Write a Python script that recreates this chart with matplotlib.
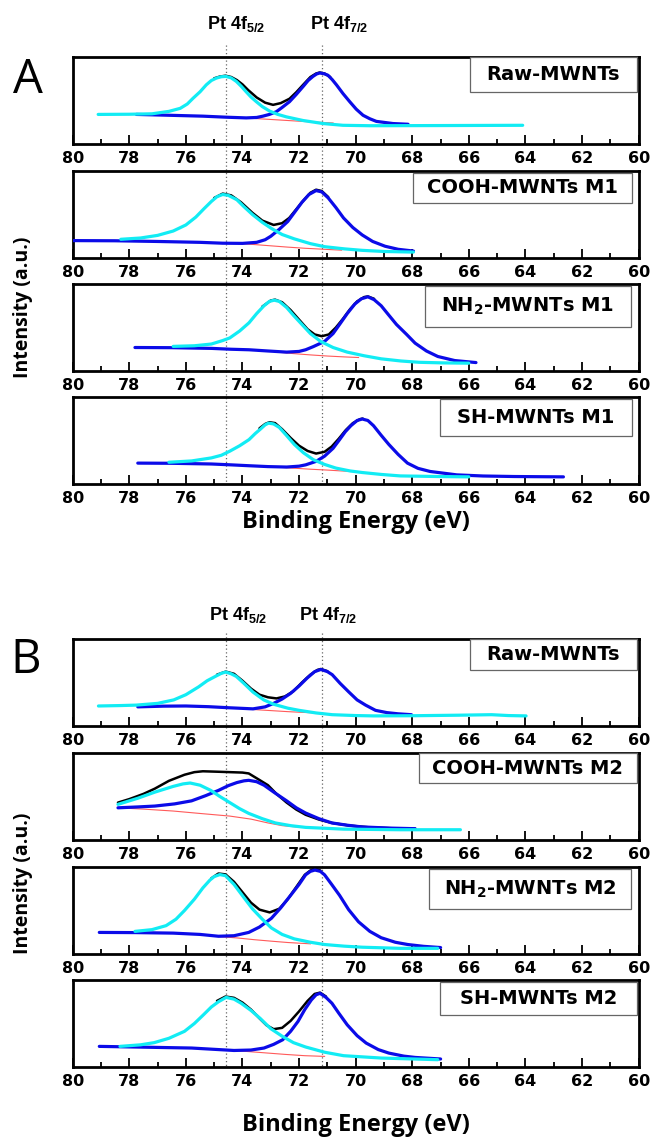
import matplotlib
matplotlib.use('Agg')
import matplotlib.pyplot as plt
from matplotlib.patches import Rectangle
from matplotlib.lines import Line2D
import matplotlib.transforms as mtransforms

plt.rcParams['mathtext.default'] = 'regular'

# ---------------- data (binding energy eV, intensity a.u.) ----------------
TICKS = [80, 78, 76, 74, 72, 70, 68, 66, 64, 62, 60]
TICK_LABELS = ['80', '78', '76', '74', '72', '70', '68', '66', '64', '62', '60']
MINOR_TICKS = [79, 77, 75, 73, 71, 69, 67, 65, 63, 61]
PEAK_LINES = [74.6, 71.2]
PEAK_NAMES = [r'Pt 4f$_{5/2}$', r'Pt 4f$_{7/2}$']

LABELS_A = ['Raw-MWNTs', 'COOH-MWNTs M1', r'NH$_2$-MWNTs M1', 'SH-MWNTs M1']
LABELS_B = ['Raw-MWNTs', 'COOH-MWNTs M2', r'NH$_2$-MWNTs M2', 'SH-MWNTs M2']

A1_CYAN = [(79.1, 0.34), (78.0, 0.342), (77.2, 0.347), (76.6, 0.375), (76.2, 0.41), (75.95, 0.46), (75.75, 0.525),
           (75.5, 0.6), (75.28, 0.68), (75.1, 0.73), (74.92, 0.758), (74.75, 0.773), (74.59, 0.777), (74.4, 0.76),
           (74.22, 0.72), (74.05, 0.665), (73.87, 0.60), (73.7, 0.54), (73.51, 0.486), (73.3, 0.43), (73.04, 0.378),
           (72.75, 0.34), (72.45, 0.312), (71.86, 0.27), (71.15, 0.235), (70.45, 0.215), (69.5, 0.21), (67.0, 0.212),
           (64.1, 0.215)]
A1_BLUE = [(77.75, 0.34), (76.57, 0.33), (75.4, 0.32), (74.57, 0.308), (73.87, 0.30), (73.5, 0.305), (73.28, 0.32),
           (73.05, 0.34), (72.81, 0.37), (72.6, 0.42), (72.34, 0.486), (72.1, 0.57), (71.86, 0.66), (71.68, 0.73),
           (71.51, 0.777), (71.38, 0.805), (71.27, 0.816), (71.12, 0.808), (70.98, 0.79), (70.83, 0.74), (70.68, 0.68),
           (70.45, 0.58), (70.21, 0.486), (69.98, 0.40), (69.74, 0.33), (69.5, 0.29), (69.27, 0.26), (68.68, 0.235),
           (68.15, 0.227)]
A1_BLACK = [(75.0, 0.755), (74.8, 0.775), (74.6, 0.785), (74.4, 0.77), (74.2, 0.735), (74.0, 0.685), (73.8, 0.62),
            (73.5, 0.535), (73.2, 0.475), (72.92, 0.45), (72.65, 0.47), (72.34, 0.52), (72.1, 0.595), (71.86, 0.68),
            (71.6, 0.77), (71.4, 0.81), (71.27, 0.822), (71.1, 0.81), (70.9, 0.77)]
A1_RED = [(74.3, 0.308), (73.8, 0.298), (73.3, 0.288), (72.8, 0.278), (72.3, 0.268), (71.8, 0.258), (71.3, 0.25),
          (70.8, 0.242)]

A2_CYAN = [(78.3, 0.215), (77.6, 0.23), (77.0, 0.26), (76.45, 0.31), (76.0, 0.38), (75.65, 0.47), (75.35, 0.57),
           (75.1, 0.65), (74.9, 0.705), (74.7, 0.73), (74.5, 0.72), (74.2, 0.67), (73.95, 0.59), (73.65, 0.50),
           (73.3, 0.41), (72.98, 0.34), (72.6, 0.27), (72.17, 0.22), (71.6, 0.165), (71.1, 0.13), (70.4, 0.105),
           (69.77, 0.088), (69.0, 0.075), (67.96, 0.068)]
A2_BLUE = [(80.0, 0.20), (78.5, 0.198), (77.0, 0.19), (75.5, 0.18), (74.7, 0.17), (74.0, 0.168), (73.5, 0.18),
           (73.2, 0.21), (73.0, 0.25), (72.7, 0.33), (72.4, 0.42), (72.15, 0.53), (71.9, 0.64), (71.65, 0.73),
           (71.4, 0.775), (71.2, 0.76), (70.97, 0.69), (70.7, 0.58), (70.43, 0.46), (70.1, 0.35), (69.77, 0.265),
           (69.4, 0.19), (68.96, 0.135), (68.5, 0.10), (67.96, 0.08)]
A2_BLACK = [(75.0, 0.69), (74.7, 0.74), (74.4, 0.72), (74.05, 0.64), (73.65, 0.52), (73.3, 0.43), (72.9, 0.38),
            (72.6, 0.40), (72.35, 0.46), (72.1, 0.56), (71.85, 0.66), (71.6, 0.75), (71.4, 0.785), (71.2, 0.77),
            (70.97, 0.70)]
A2_RED = [(74.2, 0.168), (73.6, 0.155), (73.0, 0.14), (72.4, 0.125), (71.8, 0.112), (71.1, 0.10), (70.5, 0.09)]

A3_CYAN = [(76.45, 0.283), (75.7, 0.29), (75.1, 0.31), (74.7, 0.35), (74.45, 0.38), (74.1, 0.46), (73.77, 0.554),
           (73.5, 0.66), (73.24, 0.75), (73.05, 0.80), (72.88, 0.814), (72.7, 0.80), (72.44, 0.73), (72.2, 0.64),
           (71.9, 0.535), (71.6, 0.43), (71.24, 0.34), (70.8, 0.27), (70.3, 0.217), (69.7, 0.175), (69.1, 0.14),
           (68.4, 0.115), (67.76, 0.10), (66.9, 0.093), (66.0, 0.09)]
A3_BLUE = [(77.8, 0.27), (76.5, 0.268), (75.1, 0.26), (74.4, 0.25), (73.77, 0.244), (73.1, 0.23), (72.44, 0.217),
           (72.0, 0.225), (71.77, 0.244), (71.5, 0.28), (71.1, 0.34), (70.8, 0.43), (70.57, 0.535), (70.3, 0.66),
           (70.03, 0.77), (69.8, 0.83), (69.57, 0.853), (69.35, 0.82), (69.1, 0.75), (68.85, 0.65), (68.56, 0.535),
           (68.2, 0.42), (67.9, 0.32), (67.5, 0.23), (67.1, 0.167), (66.5, 0.12), (65.75, 0.097)]
A3_BLACK = [(73.3, 0.74), (73.0, 0.81), (72.85, 0.82), (72.6, 0.79), (72.3, 0.70), (72.0, 0.59), (71.7, 0.48),
            (71.45, 0.42), (71.2, 0.40), (70.95, 0.42), (70.7, 0.50), (70.45, 0.60), (70.2, 0.71), (69.95, 0.80),
            (69.7, 0.85), (69.57, 0.857), (69.35, 0.83)]
A3_RED = [(72.7, 0.215), (72.2, 0.2), (71.6, 0.185), (71.0, 0.172), (70.4, 0.162), (69.9, 0.155)]

A4_CYAN = [(76.6, 0.25), (75.8, 0.265), (75.1, 0.30), (74.75, 0.33), (74.45, 0.377), (74.1, 0.44), (73.77, 0.51),
           (73.55, 0.58), (73.37, 0.63), (73.2, 0.68), (73.08, 0.70), (72.9, 0.69), (72.7, 0.65), (72.45, 0.56),
           (72.17, 0.455), (71.85, 0.36), (71.5, 0.28), (71.1, 0.225), (70.7, 0.183), (70.2, 0.15), (69.77, 0.132),
           (69.1, 0.11), (68.43, 0.093), (67.1, 0.086), (66.0, 0.082)]
A4_BLUE = [(77.7, 0.24), (76.5, 0.238), (75.1, 0.23), (74.4, 0.22), (73.77, 0.21), (73.1, 0.20), (72.44, 0.195),
           (72.0, 0.205), (71.77, 0.22), (71.4, 0.26), (71.1, 0.32), (70.8, 0.41), (70.57, 0.51), (70.37, 0.60),
           (70.17, 0.67), (69.95, 0.73), (69.77, 0.747), (69.57, 0.73), (69.37, 0.67), (69.1, 0.56), (68.83, 0.455),
           (68.5, 0.34), (68.17, 0.24), (67.8, 0.18), (67.37, 0.144), (66.43, 0.105), (65.5, 0.092), (64.4, 0.086),
           (62.66, 0.082)]
A4_BLACK = [(73.4, 0.64), (73.2, 0.69), (73.05, 0.71), (72.85, 0.70), (72.6, 0.63), (72.3, 0.53), (72.0, 0.44),
            (71.7, 0.38), (71.4, 0.35), (71.1, 0.37), (70.85, 0.43), (70.6, 0.52), (70.35, 0.62), (70.1, 0.70),
            (69.85, 0.745), (69.75, 0.752)]
A4_RED = [(72.6, 0.19), (72.1, 0.18), (71.6, 0.17), (71.0, 0.16), (70.5, 0.15), (70.1, 0.143)]

B1_CYAN = [(79.09, 0.23), (78.3, 0.235), (77.76, 0.24), (77.0, 0.26), (76.43, 0.30), (76.0, 0.36), (75.55, 0.45),
           (75.25, 0.52), (74.96, 0.57), (74.75, 0.605), (74.59, 0.62), (74.4, 0.60), (74.22, 0.57), (73.95, 0.49),
           (73.63, 0.39), (73.25, 0.30), (72.9, 0.25), (72.4, 0.205), (72.0, 0.18), (71.4, 0.15), (70.83, 0.13),
           (70.0, 0.12), (69.36, 0.116), (68.0, 0.118), (66.4, 0.124), (65.2, 0.13), (64.6, 0.12), (63.98, 0.116)]
B1_BLUE = [(77.7, 0.22), (76.8, 0.228), (76.0, 0.23), (75.2, 0.222), (74.5, 0.21), (73.63, 0.197), (73.2, 0.22),
           (72.9, 0.26), (72.6, 0.31), (72.3, 0.375), (72.0, 0.46), (71.72, 0.55), (71.45, 0.625), (71.23, 0.65),
           (71.0, 0.625), (70.83, 0.59), (70.55, 0.49), (70.24, 0.39), (69.95, 0.30), (69.65, 0.24), (69.3, 0.18),
           (68.9, 0.154), (68.5, 0.14), (68.03, 0.13)]
B1_BLACK = [(74.9, 0.59), (74.59, 0.625), (74.3, 0.6), (74.0, 0.52), (73.7, 0.43), (73.4, 0.36), (73.1, 0.33),
            (72.8, 0.317), (72.5, 0.34), (72.2, 0.40), (71.9, 0.5), (71.6, 0.59), (71.35, 0.645), (71.23, 0.655),
            (71.0, 0.63)]
B1_RED = [(73.9, 0.195), (73.4, 0.185), (72.9, 0.175), (72.4, 0.165), (71.9, 0.157), (71.4, 0.15)]

B2_CYAN = [(78.4, 0.41), (77.7, 0.48), (77.1, 0.55), (76.45, 0.616), (76.1, 0.645), (75.85, 0.655), (75.5, 0.63),
           (75.12, 0.57), (74.8, 0.50), (74.45, 0.43), (74.1, 0.36), (73.78, 0.306), (73.3, 0.245), (72.84, 0.196),
           (72.3, 0.165), (71.77, 0.145), (70.43, 0.125), (68.43, 0.118), (66.3, 0.118)]
B2_BLUE = [(78.4, 0.37), (77.7, 0.38), (77.1, 0.39), (76.4, 0.415), (75.8, 0.45), (75.3, 0.51), (74.85, 0.57),
           (74.5, 0.625), (74.2, 0.66), (73.95, 0.68), (73.78, 0.686), (73.5, 0.67), (73.24, 0.63), (72.85, 0.54),
           (72.44, 0.45), (72.1, 0.37), (71.77, 0.31), (71.3, 0.245), (70.84, 0.196), (70.3, 0.17), (69.77, 0.15),
           (68.8, 0.137), (67.9, 0.13)]
B2_BLACK = [(78.4, 0.43), (78.0, 0.47), (77.5, 0.53), (77.1, 0.59), (76.6, 0.68), (76.05, 0.75), (75.7, 0.78),
            (75.4, 0.79), (74.9, 0.785), (74.45, 0.78), (74.0, 0.775), (73.78, 0.765), (73.45, 0.70), (73.1, 0.63),
            (72.8, 0.53), (72.44, 0.43), (72.1, 0.35), (71.77, 0.29), (71.3, 0.235), (70.84, 0.196), (70.2, 0.165),
            (69.5, 0.145), (68.5, 0.132), (67.9, 0.13)]
B2_RED = [(78.4, 0.37), (77.5, 0.355), (76.45, 0.333), (75.5, 0.305), (74.45, 0.275), (73.7, 0.24), (73.1, 0.196),
          (72.6, 0.165), (72.1, 0.15)]

B3_CYAN = [(77.8, 0.26), (77.2, 0.28), (76.7, 0.326), (76.35, 0.40), (76.05, 0.50), (75.7, 0.63), (75.4, 0.76),
           (75.15, 0.85), (75.0, 0.89), (74.8, 0.913), (74.6, 0.90), (74.3, 0.80), (74.0, 0.67), (73.65, 0.52),
           (73.3, 0.40), (72.98, 0.30), (72.6, 0.225), (72.17, 0.174), (71.6, 0.135), (71.1, 0.109), (70.4, 0.09),
           (69.77, 0.078), (68.43, 0.065), (67.1, 0.065)]
B3_BLUE = [(79.06, 0.248), (77.8, 0.246), (76.45, 0.24), (75.5, 0.225), (74.85, 0.204), (74.3, 0.21), (73.78, 0.248),
           (73.4, 0.31), (72.98, 0.41), (72.65, 0.53), (72.3, 0.674), (72.0, 0.80), (71.77, 0.91), (71.6, 0.95),
           (71.44, 0.965), (71.25, 0.95), (71.1, 0.91), (70.85, 0.80), (70.57, 0.674), (70.25, 0.51), (69.9, 0.37),
           (69.5, 0.26), (69.1, 0.187), (68.6, 0.135), (68.16, 0.109), (67.6, 0.088), (67.0, 0.074)]
B3_BLACK = [(75.1, 0.87), (74.85, 0.925), (74.6, 0.915), (74.3, 0.83), (74.0, 0.71), (73.7, 0.59), (73.4, 0.51),
            (73.04, 0.478), (72.7, 0.52), (72.4, 0.63), (72.1, 0.77), (71.8, 0.91), (71.6, 0.96), (71.44, 0.975),
            (71.25, 0.96)]
B3_RED = [(74.85, 0.2), (74.2, 0.185), (73.6, 0.165), (73.0, 0.148), (72.4, 0.132), (71.6, 0.117)]

B4_CYAN = [(78.33, 0.237), (77.6, 0.255), (77.12, 0.28), (76.6, 0.33), (76.05, 0.41), (75.7, 0.50), (75.38, 0.60),
           (75.1, 0.69), (74.85, 0.75), (74.58, 0.80), (74.3, 0.78), (74.05, 0.733), (73.7, 0.65), (73.38, 0.56),
           (73.0, 0.44), (72.58, 0.35), (72.2, 0.28), (71.77, 0.23), (71.1, 0.17), (70.43, 0.13), (69.1, 0.103),
           (67.1, 0.084)]
B4_BLUE = [(79.06, 0.237), (77.5, 0.228), (75.8, 0.218), (74.3, 0.19), (73.7, 0.195), (73.24, 0.218), (72.9, 0.26),
           (72.58, 0.313), (72.3, 0.41), (72.04, 0.523), (71.8, 0.66), (71.57, 0.77), (71.4, 0.83), (71.26, 0.847),
           (71.05, 0.80), (70.84, 0.733), (70.6, 0.62), (70.3, 0.485), (69.95, 0.36), (69.63, 0.275), (69.2, 0.2),
           (68.83, 0.16), (68.3, 0.125), (67.9, 0.11), (67.0, 0.092)]
B4_BLACK = [(74.9, 0.76), (74.6, 0.81), (74.3, 0.795), (74.0, 0.74), (73.7, 0.66), (73.4, 0.56), (73.15, 0.48),
            (72.9, 0.435), (72.6, 0.45), (72.3, 0.53), (72.0, 0.64), (71.7, 0.76), (71.45, 0.84), (71.26, 0.855),
            (71.05, 0.81)]
B4_RED = [(74.3, 0.19), (73.7, 0.175), (73.1, 0.16), (72.5, 0.145), (71.8, 0.13), (71.1, 0.122)]

# ---------------- layout (pixels) ----------------
W, H = 653, 1141
AX_LEFT, AX_RIGHT = 72.7, 638.7

C_CYAN = '#12ECF4'
C_BLUE = '#0B0BE8'
C_RED = '#FF5A5A'
C_BLACK = '#000000'

fig = plt.figure(figsize=(W / 100, H / 100), dpi=100)


def fx(px):
    return px / W


def fy(py):
    return 1 - py / H


def xy(pts):
    return [p[0] for p in pts], [p[1] for p in pts]


def panel(top, h, label, box, curves):
    ax = fig.add_axes([fx(AX_LEFT), fy(top + h), (AX_RIGHT - AX_LEFT) / W, h / H])
    ax.set_xlim(80, 60)
    ax.set_ylim(0, 1)
    ax.patch.set_alpha(0)
    for s in ax.spines.values():
        s.set_linewidth(2.0)
    ax.set_xticks(TICKS)
    ax.set_xticklabels(TICK_LABELS, fontfamily='DejaVu Sans', fontweight='bold', fontsize=11.5)
    ax.set_xticks(MINOR_TICKS, minor=True)
    ax.set_yticks([])
    ax.tick_params(axis='x', which='both', direction='in', top=False, bottom=True, width=1.3, pad=5)
    ax.tick_params(axis='x', which='major', length=6.5)
    ax.tick_params(axis='x', which='minor', length=3.5)
    cyan, blue, black, red = curves
    ax.plot(*xy(black), color=C_BLACK, lw=1.8, zorder=2, solid_capstyle='round')
    ax.plot(*xy(red), color=C_RED, lw=0.8, zorder=2.5)
    ax.plot(*xy(blue), color=C_BLUE, lw=2.3, zorder=3, solid_capstyle='round')
    ax.plot(*xy(cyan), color=C_CYAN, lw=2.3, zorder=4, solid_capstyle='round')
    bl, br, bh, gap = box
    x0 = (bl - AX_LEFT) / (AX_RIGHT - AX_LEFT)
    x1 = (br - AX_LEFT) / (AX_RIGHT - AX_LEFT)
    y1 = 1 - gap / h
    y0 = y1 - bh
    ax.add_patch(Rectangle((x0, y0), x1 - x0, y1 - y0, transform=ax.transAxes, facecolor='white',
                           edgecolor='#666666', lw=0.9, zorder=5, clip_on=False))
    ax.text((x0 + x1) / 2, (y0 + y1) / 2, label, transform=ax.transAxes, ha='center', va='center',
            fontfamily='DejaVu Sans', fontweight='bold', fontsize=14, zorder=6)
    return ax


A_TOPS = [57, 171, 284, 397]
B_TOPS = [639, 753, 867, 980]
A_BOXES = [(470, 636.7, 0.40, 0), (413, 632, 0.34, 2), (425, 631, 0.47, 2), (440, 632, 0.43, 2)]
B_BOXES = [(470, 636.6, 0.36, 0), (419, 636.9, 0.35, 0), (429, 631, 0.46, 2), (440, 636.9, 0.38, 2)]
A_CURVES = [(A1_CYAN, A1_BLUE, A1_BLACK, A1_RED), (A2_CYAN, A2_BLUE, A2_BLACK, A2_RED),
            (A3_CYAN, A3_BLUE, A3_BLACK, A3_RED), (A4_CYAN, A4_BLUE, A4_BLACK, A4_RED)]
B_CURVES = [(B1_CYAN, B1_BLUE, B1_BLACK, B1_RED), (B2_CYAN, B2_BLUE, B2_BLACK, B2_RED),
            (B3_CYAN, B3_BLUE, B3_BLACK, B3_RED), (B4_CYAN, B4_BLUE, B4_BLACK, B4_RED)]

PH = 87
axes_a = [panel(t, PH, l, b, c) for t, l, b, c in zip(A_TOPS, LABELS_A, A_BOXES, A_CURVES)]
axes_b = [panel(t, PH, l, b, c) for t, l, b, c in zip(B_TOPS, LABELS_B, B_BOXES, B_CURVES)]


def group_decor(axes, tops, letter, letter_xy, pt_base, dot_top, ylab_y, xlab_y, pt_x):
    ax0 = axes[0]
    trans = mtransforms.blended_transform_factory(ax0.transData, fig.transFigure)
    bottom = fy(tops[-1] + PH)
    for e in PEAK_LINES:
        ln = Line2D([e, e], [fy(dot_top), bottom], transform=trans, color='#666666', lw=0.9,
                    linestyle=(0, (1, 2)), zorder=-1)
        fig.add_artist(ln)
    for name, px in zip(PEAK_NAMES, pt_x):
        fig.text(fx(px), fy(pt_base), name, ha='left', va='baseline', fontfamily='Liberation Sans',
                 fontweight='bold', fontsize=13)
    fig.text(fx(letter_xy[0]), fy(letter_xy[1]), letter, ha='center', va='center', fontfamily='Open Sans',
             fontsize=34)
    fig.text(fx(23), fy(ylab_y), 'Intensity (a.u.)', rotation=90, ha='center', va='center',
             fontfamily='Open Sans', fontweight='bold', fontsize=14)
    fig.text(fx((AX_LEFT + AX_RIGHT) / 2), fy(xlab_y), 'Binding Energy (eV)', ha='center', va='center',
             fontfamily='Open Sans', fontweight='bold', fontsize=17)


group_decor(axes_a, A_TOPS, 'A', (28, 80), 29, 45, 307, 522, [207, 310])
group_decor(axes_b, B_TOPS, 'B', (26, 660), 620, 633, 883, 1125, [209, 299])

fig.savefig('out.png', dpi=100)
